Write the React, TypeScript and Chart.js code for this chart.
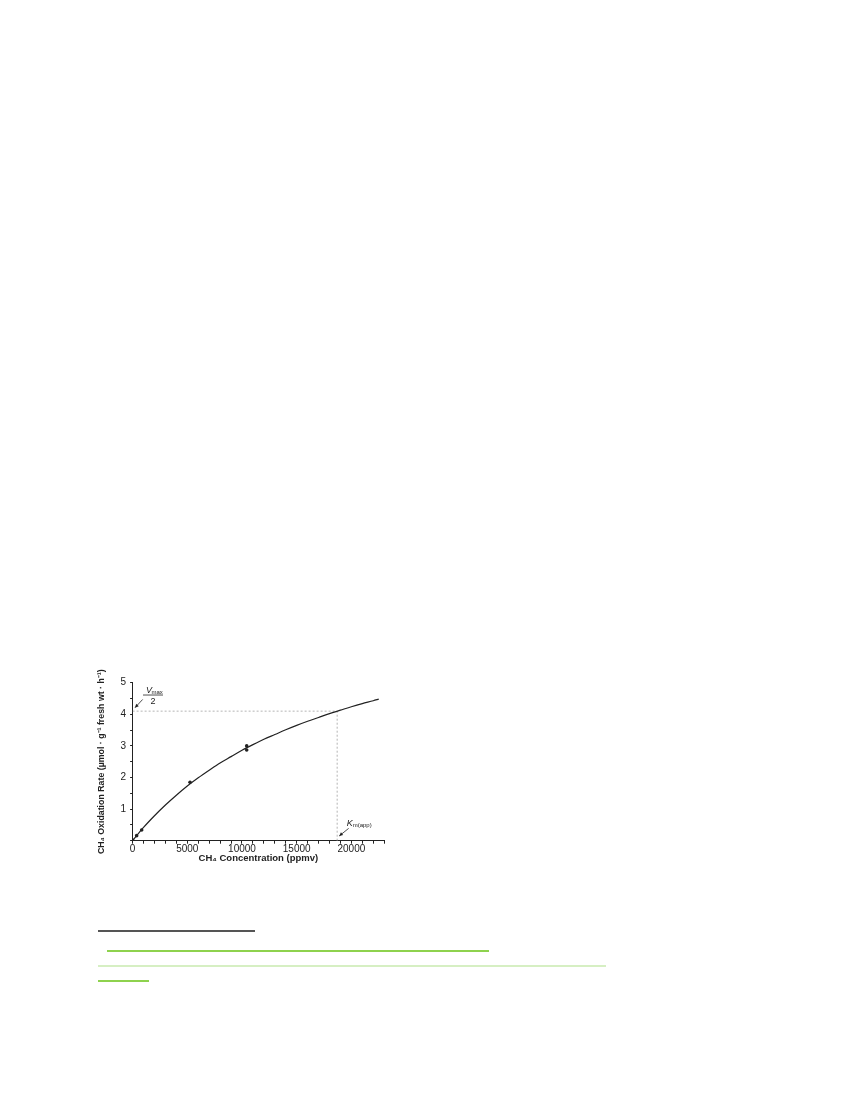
import { useEffect, useRef } from 'react';
import { Chart, registerables } from 'chart.js';

Chart.register(...registerables);

// fitted curve (ppmv -> µmol g-1 h-1)
const curveConc = [0, 1000, 2000, 3000, 4000, 5000, 6000, 7000, 8000, 9000, 10000, 11000,
  12000, 13000, 14000, 15000, 16000, 17000, 18000, 19000, 20000, 21000, 22000, 22500];
const curveRate = [0, 0.42, 0.79, 1.13, 1.44, 1.73, 1.99, 2.23, 2.46, 2.66, 2.86, 3.04,
  3.21, 3.36, 3.51, 3.65, 3.78, 3.9, 4.02, 4.13, 4.24, 4.34, 4.43, 4.48];

// measured points
const pointConc = [0, 370, 830, 5250, 10430, 10430];
const pointRate = [0.02, 0.16, 0.34, 1.85, 3.0, 2.87];

// Km(app) and Vmax/2 guide
const kmApp = 18700;
const halfVmax = 4.1;

const xMax = 23000;
const yMax = 5;

const FONT = '"Liberation Sans", Arial, sans-serif';
const INK = '#222';

function arrow(ctx: CanvasRenderingContext2D, x1: number, y1: number, x2: number, y2: number) {
  const a = Math.atan2(y2 - y1, x2 - x1);
  const h = 4;
  ctx.beginPath();
  ctx.moveTo(x1, y1);
  ctx.lineTo(x2, y2);
  ctx.stroke();
  ctx.beginPath();
  ctx.moveTo(x2, y2);
  ctx.lineTo(x2 - h * Math.cos(a - 0.45), y2 - h * Math.sin(a - 0.45));
  ctx.lineTo(x2 - h * Math.cos(a + 0.45), y2 - h * Math.sin(a + 0.45));
  ctx.closePath();
  ctx.fill();
}

const labelsPlugin = {
  id: 'kineticLabels',
  afterDatasetsDraw(chart: any) {
    const { ctx } = chart;
    const sx = chart.scales.x;
    const sy = chart.scales.y;
    const px = (v: number) => sx.getPixelForValue(v);
    const py = (v: number) => sy.getPixelForValue(v);

    ctx.save();
    ctx.strokeStyle = INK;
    ctx.fillStyle = INK;
    ctx.lineWidth = 0.8;

    // Vmax / 2
    const bx = px(1865);
    const by = py(4.61);
    ctx.textBaseline = 'alphabetic';
    ctx.textAlign = 'left';
    ctx.font = `italic 9px ${FONT}`;
    ctx.fillText('V', bx - 7, by - 2);
    ctx.font = `6px ${FONT}`;
    ctx.fillText('max', bx - 1.5, by - 1);
    ctx.beginPath();
    ctx.moveTo(bx - 10, by);
    ctx.lineTo(bx + 10, by);
    ctx.stroke();
    ctx.font = `9px ${FONT}`;
    ctx.textAlign = 'center';
    ctx.fillText('2', bx, by + 9);
    arrow(ctx, px(920), py(4.47), px(220), py(4.21));

    // Km(app)
    const kx = px(19570);
    const ky = py(0.45);
    ctx.textAlign = 'left';
    ctx.font = `italic 9px ${FONT}`;
    ctx.fillText('K', kx, ky);
    ctx.font = `6px ${FONT}`;
    ctx.fillText('m(app)', kx + 6, ky + 1);
    arrow(ctx, px(19750), py(0.39), px(18890), py(0.15));

    ctx.restore();
  },
};

function KineticsChart() {
  const canvasRef = useRef<HTMLCanvasElement>(null);
  const chartRef = useRef<Chart | null>(null);

  useEffect(() => {
    if (!canvasRef.current) return;
    if (chartRef.current) chartRef.current.destroy();

    chartRef.current = new Chart(canvasRef.current, {
      type: 'line',
      data: {
        datasets: [
          {
            label: 'fit',
            data: curveConc.map((c, i) => ({ x: c, y: curveRate[i] })),
            borderColor: INK,
            borderWidth: 1.2,
            pointRadius: 0,
            cubicInterpolationMode: 'monotone',
          },
          {
            label: 'measured',
            data: pointConc.map((c, i) => ({ x: c, y: pointRate[i] })),
            showLine: false,
            pointRadius: 1.8,
            pointBackgroundColor: INK,
            pointBorderColor: INK,
            pointBorderWidth: 0,
          },
          {
            label: 'half vmax',
            data: [{ x: 0, y: halfVmax }, { x: kmApp, y: halfVmax }],
            borderColor: '#b4b4b4',
            borderWidth: 1,
            borderDash: [2, 2],
            pointRadius: 0,
          },
          {
            label: 'km',
            data: [{ x: kmApp, y: 0 }, { x: kmApp, y: halfVmax }],
            borderColor: '#b4b4b4',
            borderWidth: 1,
            borderDash: [2, 2],
            pointRadius: 0,
          },
        ],
      },
      options: {
        responsive: false,
        animation: false,
        layout: { padding: { left: 6, top: 22.7, right: 5.8, bottom: 15.8 } },
        plugins: {
          legend: { display: false },
          tooltip: { enabled: false },
        },
        scales: {
          x: {
            type: 'linear',
            min: 0,
            max: xMax,
            afterFit: (s: any) => { s.height = 23.5; },
            border: { color: INK, width: 1 },
            grid: { drawOnChartArea: false, tickLength: 3, color: INK },
            ticks: {
              stepSize: 1000,
              autoSkip: false,
              maxRotation: 0,
              padding: 0,
              color: INK,
              font: { family: FONT, size: 10 },
              callback: (v: any) => (Number(v) % 5000 === 0 ? String(v) : ''),
            },
            title: {
              display: true,
              text: 'CH₄ Concentration (ppmv)',
              color: INK,
              padding: 0,
              font: { family: FONT, size: 9.5, weight: 'bold' },
            },
          },
          y: {
            min: 0,
            max: yMax,
            afterFit: (s: any) => { s.width = 36.6; },
            border: { color: INK, width: 1 },
            grid: { drawOnChartArea: false, tickLength: 2.5, color: INK },
            ticks: {
              stepSize: 0.5,
              autoSkip: false,
              padding: 4,
              color: INK,
              font: { family: FONT, size: 10 },
              callback: (v: any) => {
                const n = Number(v);
                return n === 0 || !Number.isInteger(n) ? '' : String(n);
              },
            },
            title: {
              display: true,
              text: 'CH₄ Oxidation Rate (µmol · g⁻¹ fresh wt · h⁻¹)',
              color: INK,
              padding: 0,
              font: { family: FONT, size: 8.8, weight: 'bold' },
            },
          },
        },
      },
      plugins: [labelsPlugin],
    });

    return () => {
      if (chartRef.current) {
        chartRef.current.destroy();
        chartRef.current = null;
      }
    };
  }, []);

  return (
    <div style={{ position: 'absolute', left: 90, top: 660, width: 300, height: 220 }}>
      <canvas ref={canvasRef} width={300} height={220} style={{ width: 300, height: 220 }} />
    </div>
  );
}

const rule = (left: number, top: number, width: number, color: string) => (
  <div style={{ position: 'absolute', left, top, width, height: 1.5, background: color }} />
);

export default function App() {
  return (
    <div style={{ height: 1084, background: '#fff' }}>
      <KineticsChart />
      {rule(98, 930, 157, '#555')}
      {rule(107, 950, 382, '#8ed24e')}
      {rule(98, 965, 508, '#d6efc3')}
      {rule(98, 980, 51, '#8ed24e')}
    </div>
  );
}
